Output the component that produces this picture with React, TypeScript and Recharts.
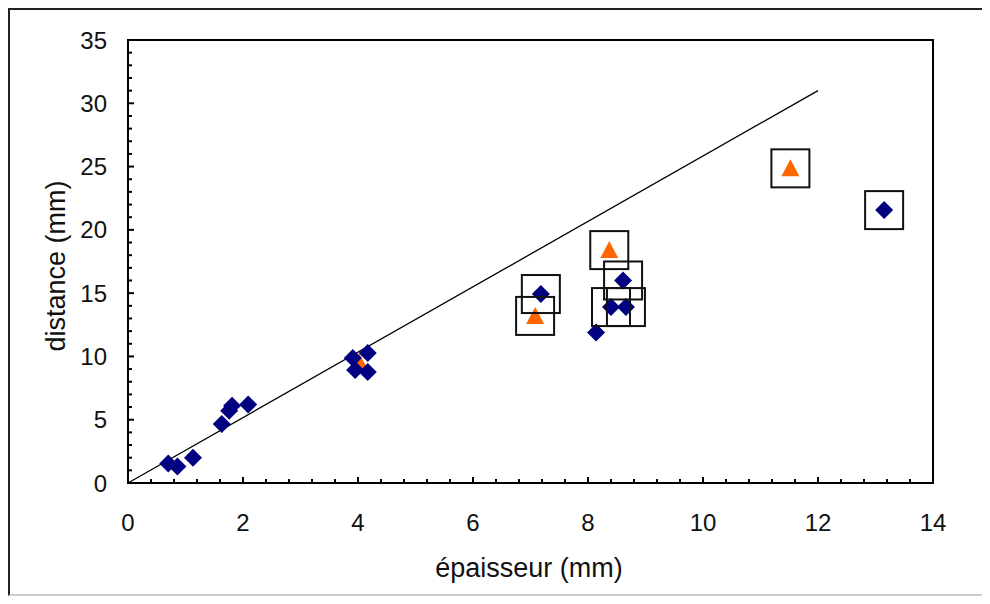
import React from 'react';
import { ScatterChart, Scatter, XAxis, YAxis, ReferenceArea, ReferenceLine } from 'recharts';

// measured points (épaisseur mm, distance mm)
const bluePoints = [
  { x: 0.7, y: 1.55 },
  { x: 0.86, y: 1.3 },
  { x: 1.13, y: 2.0 },
  { x: 1.63, y: 4.66 },
  { x: 1.76, y: 5.7 },
  { x: 1.81, y: 6.1 },
  { x: 2.09, y: 6.2 },
  { x: 3.91, y: 9.87 },
  { x: 4.17, y: 10.27 },
  { x: 3.95, y: 8.93 },
  { x: 4.17, y: 8.77 },
  { x: 7.18, y: 14.93 },
  { x: 8.61, y: 16.0 },
  { x: 8.4, y: 13.9 },
  { x: 8.66, y: 13.9 },
  { x: 8.14, y: 11.9 },
  { x: 13.15, y: 21.56 },
];

const orangePoints = [
  { x: 4.02, y: 9.56 },
  { x: 7.08, y: 13.2 },
  { x: 8.37, y: 18.4 },
  { x: 11.52, y: 24.86 },
];

// points that are framed by a square
const boxedPoints = [
  { x: 7.18, y: 14.93 },
  { x: 7.08, y: 13.2 },
  { x: 8.37, y: 18.4 },
  { x: 8.61, y: 16.0 },
  { x: 8.4, y: 13.9 },
  { x: 8.66, y: 13.9 },
  { x: 11.52, y: 24.86 },
  { x: 13.15, y: 21.56 },
];

const trendLine = [
  { x: 0, y: 0 },
  { x: 12, y: 31 },
];

// every tick mark; labelled ones are in the major lists
const xTicks = [
  0, 0.4, 0.8, 1.2, 1.6, 2, 2.4, 2.8, 3.2, 3.6, 4, 4.4, 4.8, 5.2, 5.6, 6, 6.4, 6.8, 7.2, 7.6, 8,
  8.4, 8.8, 9.2, 9.6, 10, 10.4, 10.8, 11.2, 11.6, 12, 12.4, 12.8, 13.2, 13.6, 14,
];
const xMajor = [0, 2, 4, 6, 8, 10, 12, 14];
const yTicks = [
  0, 1, 2, 3, 4, 5, 6, 7, 8, 9, 10, 11, 12, 13, 14, 15, 16, 17, 18, 19, 20, 21, 22, 23, 24, 25,
  26, 27, 28, 29, 30, 31, 32, 33, 34, 35,
];
const yMajor = [0, 5, 10, 15, 20, 25, 30, 35];

const FONT = '"Liberation Sans", Arial, sans-serif';
const NAVY = '#000080';
const ORANGE = '#ff6600';

const XTick = (props: any) => {
  const { x, y, payload } = props;
  const major = xMajor.includes(payload.value);
  return (
    <g>
      <line x1={x} x2={x} y1={y} y2={y - (major ? 6 : 4)} stroke="#000" strokeWidth={2} />
      {major && (
        <text x={x} y={y + 39} textAnchor="middle" dominantBaseline="central" fontSize={24} fontFamily={FONT} fill="#111">
          {payload.value}
        </text>
      )}
    </g>
  );
};

const YTick = (props: any) => {
  const { x, y, payload } = props;
  const major = yMajor.includes(payload.value);
  return (
    <g>
      <line x1={x} x2={x + (major ? 6 : 4)} y1={y} y2={y} stroke="#000" strokeWidth={2} />
      {major && (
        <text x={x - 21} y={y} textAnchor="end" dominantBaseline="central" fontSize={24} fontFamily={FONT} fill="#111">
          {payload.value}
        </text>
      )}
    </g>
  );
};

const Diamond = (props: any) => {
  const { cx, cy } = props;
  const h = 9;
  return <polygon points={`${cx},${cy - h} ${cx + h},${cy} ${cx},${cy + h} ${cx - h},${cy}`} fill={NAVY} />;
};

const Triangle = (props: any) => {
  const { cx, cy } = props;
  return <polygon points={`${cx},${cy - 9} ${cx + 9},${cy + 8} ${cx - 9},${cy + 8}`} fill={ORANGE} />;
};

const Box = (props: any) => {
  const { cx, cy } = props;
  const s = 38;
  return <rect x={cx - s / 2} y={cy - s / 2} width={s} height={s} fill="none" stroke="#111" strokeWidth={2} />;
};

export default function App() {
  return (
    <div
      style={{
        position: 'relative',
        width: 982,
        height: 588,
        boxSizing: 'border-box',
        borderLeft: '2px solid #222',
        borderTop: '2px solid #222',
        borderBottom: '2px solid #ccc',
        background: '#fff',
        overflow: 'hidden',
        fontFamily: FONT,
      }}
    >
      <ScatterChart width={980} height={584} margin={{ top: 30, right: 57, bottom: 51, left: 0 }}>
        <XAxis
          type="number"
          dataKey="x"
          domain={[0, 14]}
          ticks={xTicks}
          interval={0}
          height={60}
          tickSize={0}
          tickMargin={0}
          axisLine={false}
          tickLine={false}
          tick={<XTick />}
        />
        <YAxis
          type="number"
          dataKey="y"
          domain={[0, 35]}
          ticks={yTicks}
          interval={0}
          width={118}
          tickSize={0}
          tickMargin={0}
          axisLine={false}
          tickLine={false}
          tick={<YTick />}
        />
        <ReferenceArea x1={0} x2={14} y1={0} y2={35} fill="none" stroke="#000" strokeWidth={2} fillOpacity={0} />
        <ReferenceLine segment={trendLine} stroke="#000" strokeWidth={1.3} />
        <Scatter data={orangePoints} shape={<Triangle />} isAnimationActive={false} />
        <Scatter data={bluePoints} shape={<Diamond />} isAnimationActive={false} />
        <Scatter data={boxedPoints} shape={<Box />} isAnimationActive={false} />
      </ScatterChart>
      <div
        style={{
          position: 'absolute',
          left: 369,
          top: 543,
          width: 300,
          height: 30,
          lineHeight: '30px',
          textAlign: 'center',
          fontSize: 27,
          color: '#111',
          whiteSpace: 'nowrap',
        }}
      >
        épaisseur (mm)
      </div>
      <div
        style={{
          position: 'absolute',
          left: 46 - 150,
          top: 256 - 15,
          width: 300,
          height: 30,
          lineHeight: '30px',
          textAlign: 'center',
          fontSize: 27,
          color: '#111',
          whiteSpace: 'nowrap',
          transform: 'rotate(-90deg)',
        }}
      >
        distance (mm)
      </div>
    </div>
  );
}
